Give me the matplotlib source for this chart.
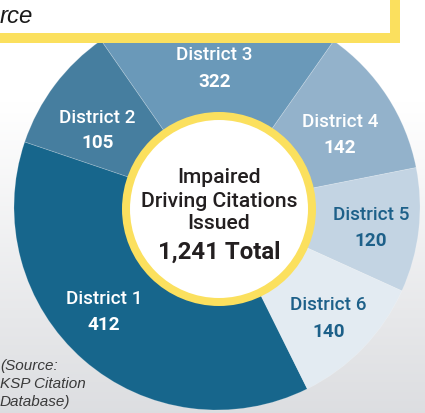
import matplotlib
matplotlib.use("Agg")
import matplotlib.pyplot as plt
import numpy as np
from matplotlib.patches import Circle, Rectangle
from matplotlib import font_manager

# ---------------- data ----------------
districts = ["District 1", "District 2", "District 3", "District 4", "District 5", "District 6"]
citations = [412, 105, 322, 142, 120, 140]
# angular size of each slice as drawn in the reference graphic (degrees)
drawn_deg = [135.1, 36.5, 69.9, 43.7, 35.6, 39.2]
center_lines = ["Impaired", "Driving Citations", "Issued"]
total_label = "1,241 Total"
source_lines = ["(Source:", "KSP Citation", "Database)"]
header_fragment = "rce"

# ---------------- style ----------------
slice_colors = ["#17668c", "#467e9f", "#6a99b9", "#93b2cb", "#c3d4e3", "#e3ebf2"]
label_colors = ["white", "white", "white", "white", "#1d6089", "#1d6089"]
yellow = "#fbe05e"

W, H = 425, 413


def Y(t):
    return H - t


def pick(cands):
    names = {f.name for f in font_manager.fontManager.ttflist}
    for c in cands:
        if c in names:
            return c
    return "DejaVu Sans"


cond = pick(["Roboto", "Liberation Sans Narrow", "DejaVu Sans"])
arial = pick(["Liberation Sans", "DejaVu Sans"])

fig = plt.figure(figsize=(W / 100, H / 100), dpi=100)
ax = fig.add_axes([0, 0, 1, 1])

# background gradient (grey at top fading to white)
grad = np.linspace(0, 1, 200)
top = np.array([0.865, 0.870, 0.882])
bot = np.array([1.0, 1.0, 1.0])
t = np.clip(grad / 0.75, 0, 1)[:, None]
img = top * (1 - t) + bot * t
ax.imshow(img[:, None, :].repeat(2, axis=1), extent=[0, W, H, 0], aspect="auto", zorder=0, origin="upper")

# donut
pcx, pcy = 217, Y(207)
wedges, _ = ax.pie(drawn_deg, colors=slice_colors, startangle=-63.6, counterclock=False,
                   center=(pcx, pcy), radius=203,
                   wedgeprops=dict(linewidth=0.6, edgecolor=(1, 1, 1, 0.2)))
for w in wedges:
    w.set_zorder(2)

# center disc
ccx, ccy = 219, Y(209)
ax.add_patch(Circle((ccx, ccy), 97, facecolor=yellow, edgecolor="none", zorder=3))
ax.add_patch(Circle((ccx, ccy), 89, facecolor="white", edgecolor="none", zorder=4))

center_base = [183, 207, 229]
for line, b in zip(center_lines, center_base):
    ax.text(ccx, Y(b), line, ha="center", va="baseline", fontsize=15.2,
            family=cond, fontweight="medium", color="#231f20", zorder=5)
ax.text(ccx, Y(259), total_label, ha="center", va="baseline", fontsize=17.3,
        family=cond, fontweight="bold", color="#231f20", zorder=5)

# slice labels (x center, name baseline, number baseline) in px from top-left
label_pos = [(104, 304, 330), (97.5, 123, 148), (214.5, 60, 87),
             (340, 127, 153), (371, 220, 246), (328.5, 310, 337)]
for name, val, col, (x, b1, b2) in zip(districts, citations, label_colors, label_pos):
    ax.text(x, Y(b1), name, ha="center", va="baseline", fontsize=13.6,
            family=cond, fontweight="medium", color=col, zorder=5)
    ax.text(x, Y(b2), f"{val:,}", ha="center", va="baseline", fontsize=13.6,
            family=cond, fontweight="bold", color=col, zorder=5)

# header box fragment at top
ax.add_patch(Rectangle((-10, Y(43)), 410, 60, facecolor=yellow, edgecolor="none", zorder=6))
ax.add_patch(Rectangle((-10, Y(33)), 400, 50, facecolor="white", edgecolor="none", zorder=7))
ax.text(0, Y(23), header_fragment, ha="left", va="baseline", fontsize=17.3,
        family=arial, style="italic", color="#1a1a1a", zorder=8)

# source note
for line, b in zip(source_lines, [370, 388, 406]):
    ax.text(0, Y(b), line, ha="left", va="baseline", fontsize=11,
            family=arial, style="italic", color="#3a3a3a", zorder=8)

ax.set_xlim(0, W)
ax.set_ylim(0, H)
ax.set_aspect("auto")
ax.axis("off")
fig.savefig("out.png", dpi=100)
